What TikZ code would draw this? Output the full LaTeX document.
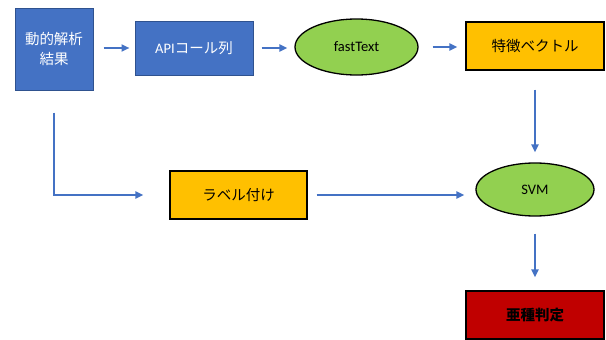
\documentclass[tikz,border=0pt]{standalone}
\usepackage{fontspec}
\setmainfont{Carlito}
\newfontfamily\jp{Noto Sans CJK JP}
\usetikzlibrary{arrows.meta,shapes.geometric}
\definecolor{procblue}{HTML}{4472C4}
\definecolor{procedge}{HTML}{2F528F}
\definecolor{leafgreen}{HTML}{92D050}
\definecolor{ambers}{HTML}{FFC000}
\definecolor{alarmred}{HTML}{C00000}
\tikzset{procbox/.style={
  rectangle,
  draw=procedge,fill=procblue,text=white,line width=1pt,
  inner sep=0pt,align=center}}
\tikzset{databox/.style={
  rectangle,
  draw=black,fill=ambers,line width=1.3pt,
  inner sep=0pt}}
\tikzset{learner/.style={
  ellipse,
  draw=black,fill=leafgreen,line width=1.3pt,
  inner sep=0pt}}
\tikzset{verdict/.style={
  rectangle,
  draw=black,fill=alarmred,line width=1.3pt,
  inner sep=0pt,font=\fontsize{14.5}{17}\selectfont\jp\bfseries}}
\tikzset{flow/.style={
  procblue,line width=2pt,->}}
\tikzset{>={Triangle[length=8pt,width=7pt]}}

\begin{document}
\begin{tikzpicture}[x=1pt,y=-1pt,font=\fontsize{14.5}{20}\selectfont]
  \useasboundingbox (0,0) rectangle (606,340);
  \node[procbox,minimum width=78pt,minimum height=82pt] (res) at (54,49)
    {\jp 動的解析\\\jp 結果};
  \node[procbox,minimum width=118pt,minimum height=54pt] (api) at (194,48)
    {API{\jp コール列}};
  \node[learner,minimum width=123pt,minimum height=56pt] (ft) at (356.5,47)
    {fastText};
  \node[databox,minimum width=138pt,minimum height=48pt] (vec) at (535,46)
    {\jp 特徴ベクトル};
  \node[databox,minimum width=137pt,minimum height=48pt] (lab) at (238.5,195)
    {\jp ラベル付け};
  \node[learner,minimum width=118pt,minimum height=53pt] (svm) at (535,189.5)
    {SVM};
  \node[verdict,minimum width=138pt,minimum height=48pt] (sub) at (535,315)
    {亜種判定};

  % connectors
  \draw[flow,shorten <=10pt,shorten >=5pt] (res.east |- api) -- (api);
  \draw[flow,shorten <=8pt,shorten >=7pt] (api.east) -- (api.east -| ft.west);
  \draw[flow,shorten <=14pt,shorten >=8pt] (ft.east) -- (ft.east -| vec.west);
  \draw[flow,shorten <=19pt,shorten >=10pt] (vec) -- (svm);
  \draw[flow,shorten <=22pt,shorten >=26pt] (res) |- (lab);
  \draw[flow,shorten <=9pt,shorten >=11pt] (lab.east) -- (lab.east -| svm.west);
  \draw[flow,shorten <=17pt,shorten >=13pt] (svm) -- (sub);
\end{tikzpicture}
\end{document}
